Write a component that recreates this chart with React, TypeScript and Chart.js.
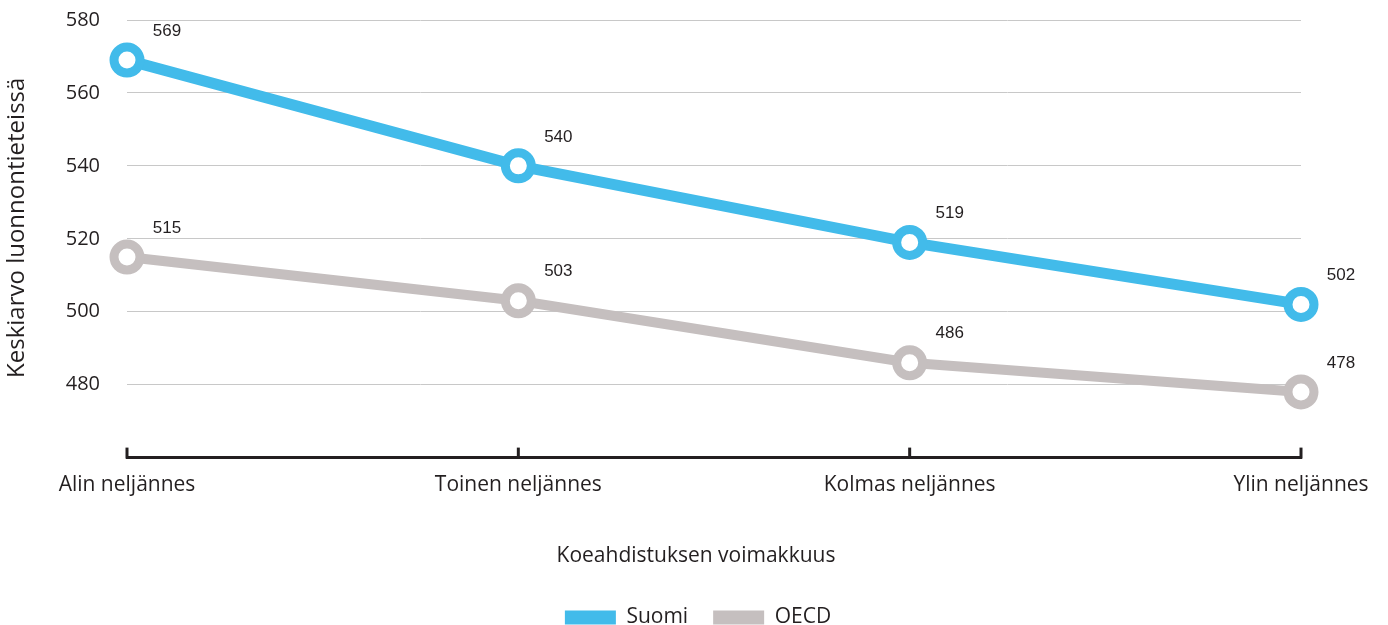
import React, { useEffect, useRef } from "react";
import { Chart, registerables } from "chart.js";

Chart.register(...registerables);

const categories = ["Alin neljännes", "Toinen neljännes", "Kolmas neljännes", "Ylin neljännes"];
const suomiValues = [569, 540, 519, 502];
const oecdValues = [515, 503, 486, 478];
const yMin = 460;
const yMax = 580;
const yStep = 20;
const yTitle = "Keskiarvo luonnontieteissä";
const xTitle = "Koeahdistuksen voimakkuus";

const FONT = "'Open Sans', sans-serif";
const BLUE = "#42BBEA";
const GREY = "#C5BFBF";
const TEXT = "#231f20";

const extras = {
  id: "extras",
  afterLayout(chart: any) {
    if (chart.legend) {
      chart.legend.left = 8;
      chart.legend.right = chart.width;
    }
  },
  afterDraw(chart: any) {
    const ctx = chart.ctx;
    const xs = chart.scales.x;
    const area = chart.chartArea;
    ctx.save();
    // upward tick marks on x axis
    ctx.strokeStyle = TEXT;
    ctx.lineWidth = 3;
    categories.forEach((_, i) => {
      const x = xs.getPixelForValue(i);
      ctx.beginPath();
      ctx.moveTo(x, area.bottom + 1);
      ctx.lineTo(x, area.bottom - 10);
      ctx.stroke();
    });
    // data labels
    ctx.fillStyle = TEXT;
    ctx.font = "17px 'Liberation Sans', Arial, sans-serif";
    ctx.textAlign = "center";
    ctx.textBaseline = "middle";
    chart.data.datasets.forEach((ds: any, di: number) => {
      const meta = chart.getDatasetMeta(di);
      meta.data.forEach((pt: any, i: number) => {
        ctx.fillText(String(ds.data[i]), pt.x + 40, pt.y - 29);
      });
    });
    // x title (centred on the page)
    ctx.font = "21px " + FONT;
    ctx.fillText(xTitle, chart.width / 2 + 2, xs.bottom - 13 - 12.6);
    // y title
    ctx.font = "24px " + FONT;
    ctx.translate(17, (area.top + area.bottom) / 2 - 11);
    ctx.rotate(-Math.PI / 2);
    ctx.fillText(yTitle, 0, 0);
    ctx.restore();
  },
};

export default function App() {
  const ref = useRef<HTMLCanvasElement>(null);
  useEffect(() => {
    document.body.style.margin = "0";
    document.body.style.overflow = "hidden";
    const chart = new Chart(ref.current!, {
      type: "line",
      data: {
        labels: categories,
        datasets: [
          {
            label: "Suomi",
            data: suomiValues,
            borderColor: BLUE,
            backgroundColor: BLUE,
            borderWidth: 11,
            pointRadius: 13,
            pointBorderWidth: 9,
            pointBackgroundColor: "#ffffff",
            pointBorderColor: BLUE,
            pointHoverRadius: 13,
          },
          {
            label: "OECD",
            data: oecdValues,
            borderColor: GREY,
            backgroundColor: GREY,
            borderWidth: 10,
            pointRadius: 13,
            pointBorderWidth: 9,
            pointBackgroundColor: "#ffffff",
            pointBorderColor: GREY,
            pointHoverRadius: 13,
          },
        ],
      },
      plugins: [extras],
      options: {
        animation: false,
        responsive: false,
        layout: { autoPadding: false, padding: { top: 20, right: 87, left: 0, bottom: 0 } },
        plugins: {
          tooltip: { enabled: false },
          legend: {
            position: "bottom",
            labels: {
              font: { family: FONT, size: 21 },
              color: TEXT,
              boxWidth: 51,
              boxHeight: 14,
              padding: 25,
              generateLabels: (chart: any) =>
                chart.data.datasets.map((ds: any, i: number) => ({
                  text: ds.label,
                  fillStyle: ds.borderColor,
                  strokeStyle: ds.borderColor,
                  lineWidth: 0,
                  datasetIndex: i,
                  fontColor: TEXT,
                })),
            },
          },
        },
        scales: {
          x: {
            offset: false,
            grid: { display: false, drawTicks: false },
            border: { display: true, color: TEXT, width: 3 },
            ticks: { font: { family: FONT, size: 21 }, color: TEXT, padding: 15, maxRotation: 0 },
            title: {
              display: true,
              text: xTitle,
              font: { family: FONT, size: 21 },
              color: "rgba(0,0,0,0)",
              padding: { top: 31, bottom: 13 },
            },
          },
          y: {
            min: yMin,
            max: yMax,
            grid: {
              color: (c: any) => (c.tick && c.tick.value === yMin ? "rgba(0,0,0,0)" : "#c8c8c8"),
              lineWidth: 1,
              drawTicks: true,
              tickLength: 27,
              tickColor: "rgba(0,0,0,0)",
            },
            border: { display: false },
            ticks: {
              stepSize: yStep,
              font: { family: FONT, size: 20 },
              color: TEXT,
              padding: 0,
              callback: (v: any) => (v === yMin ? "" : String(v)),
            },
            afterFit: (s: any) => {
              s.width = 127;
            },
          },
        },
      },
    });
    return () => chart.destroy();
  }, []);
  return (
    <div style={{ width: 1388, height: 625, overflow: "hidden" }}>
      <canvas ref={ref} width={1388} height={638} style={{ display: "block" }} />
    </div>
  );
}
